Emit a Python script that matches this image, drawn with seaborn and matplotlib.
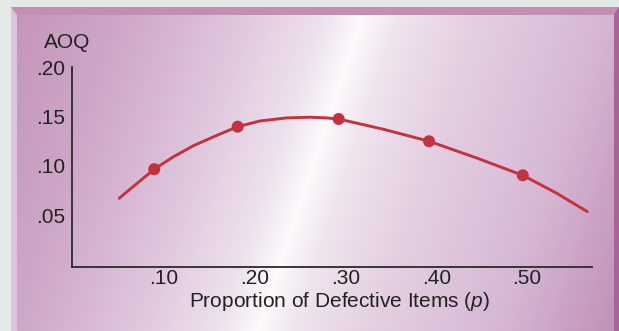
import numpy as np
import pandas as pd
import matplotlib
matplotlib.use("Agg")
import matplotlib.pyplot as plt
from matplotlib.patches import Polygon
import seaborn as sns

# ---- data ----
curve_p = [0.0506, 0.0698, 0.0892, 0.1101, 0.1322, 0.1580, 0.1811, 0.2057, 0.2351,
           0.2608, 0.2792, 0.2924, 0.3416, 0.3920, 0.4445, 0.4953, 0.5327, 0.5665]
curve_aoq = [0.0670, 0.0818, 0.0965, 0.1090, 0.1203, 0.1308, 0.1397, 0.1455, 0.1486,
             0.1493, 0.1486, 0.1475, 0.1371, 0.1249, 0.1079, 0.0903, 0.0721, 0.0534]
point_p = [0.0892, 0.1811, 0.2924, 0.3920, 0.4953]
point_aoq = [0.0965, 0.1397, 0.1475, 0.1249, 0.0903]
xticks = [0.10, 0.20, 0.30, 0.40, 0.50]
xticklabels = [".10", ".20", ".30", ".40", ".50"]
yticks = [0.05, 0.10, 0.15, 0.20]
yticklabels = [".05", ".10", ".15", ".20"]

sns.set_style("white")
plt.rcParams['font.family'] = ['Liberation Sans', 'DejaVu Sans']
plt.rcParams['mathtext.fontset'] = 'custom'
plt.rcParams['mathtext.it'] = 'Liberation Sans:italic'
plt.rcParams['mathtext.rm'] = 'Liberation Sans'

W, H = 619, 331
FS = 15
fig = plt.figure(figsize=(W / 100, H / 100), dpi=100)
fig.patch.set_facecolor('#e4e9e7')

# ---- background panel ----
bg = fig.add_axes([0, 0, 1, 1], zorder=-5)
bg.axis('off')
x0, y0 = 11, 7
xs = np.arange(x0, W) + 0.5
ys = np.arange(y0, H) + 0.5
X, Y = np.meshgrid(xs, ys)
U = X + Y / 3.0
cu = [0, 130, 250, 330, 368, 405, 480, 607, 720]
cols = np.array([(194, 146, 184), (206, 168, 200), (224, 200, 222), (238, 226, 238),
                 (252, 250, 252), (240, 228, 238), (228, 208, 226), (214, 184, 212),
                 (194, 146, 184)]) / 255.0
img = np.stack([np.interp(U, cu, cols[:, k]) for k in range(3)], axis=-1)
bg.imshow(img, extent=(x0, W, H, y0), origin='upper', aspect='auto', interpolation='bilinear')
bg.set_xlim(0, W)
bg.set_ylim(H, 0)
bg.add_patch(Polygon([(x0, y0), (W, y0), (613, 15), (17, 15)], closed=True,
                     facecolor='#c28fb2', edgecolor='none'))
bg.add_patch(Polygon([(x0, y0), (17, 15), (17, H), (x0, H)], closed=True,
                     facecolor='#dcc3da', edgecolor='none'))
bg.add_patch(Polygon([(W, y0), (W, H), (614, H), (614, 14)], closed=True,
                     facecolor='#a6649a', edgecolor='none'))

# ---- main chart ----
left, right, top, bottom = 72.4, 592, 67.3, 266.7
ax = fig.add_axes([left / W, 1 - bottom / H, (right - left) / W, (bottom - top) / H])
ax.set_facecolor('none')

curve = pd.DataFrame({'p': curve_p, 'aoq': curve_aoq})
pts = pd.DataFrame({'p': point_p, 'aoq': point_aoq})
sns.lineplot(data=curve, x='p', y='aoq', ax=ax, color='#c4323f', linewidth=2.1,
             sort=False, estimator=None)
ax.lines[-1].set_solid_joinstyle('round')
sns.scatterplot(data=pts, x='p', y='aoq', ax=ax, color='#c4323f', s=75,
                edgecolor='none', zorder=5)

ax.set_xlim(-0.001, 0.5716)
ax.set_ylim(-0.0025, 0.20)
ax.set_xticks(xticks)
ax.set_xticklabels(xticklabels)
ax.set_yticks(yticks)
ax.set_yticklabels(yticklabels)
for s in ['top', 'right']:
    ax.spines[s].set_visible(False)
for s in ['left', 'bottom']:
    ax.spines[s].set_color('#2a2a2a')
    ax.spines[s].set_linewidth(1.3)
ax.tick_params(direction='in', length=7.5, width=1.3, color='#2a2a2a',
               labelsize=FS, labelcolor='#222222')
ax.tick_params(axis='x', pad=2)
ax.tick_params(axis='y', pad=5)
ax.set_ylabel('')
ax.set_xlabel('Proportion of Defective Items ($p$)', fontsize=FS, color='#222222')
ax.xaxis.label.set_position(((339.5 - left) / (right - left), 0))
ax.xaxis.labelpad = 1

fig.text(67 / W, 1 - 42 / H, 'AOQ', ha='center', va='center', fontsize=FS, color='#222222')

fig.savefig('out.png', dpi=100, facecolor=fig.get_facecolor())
